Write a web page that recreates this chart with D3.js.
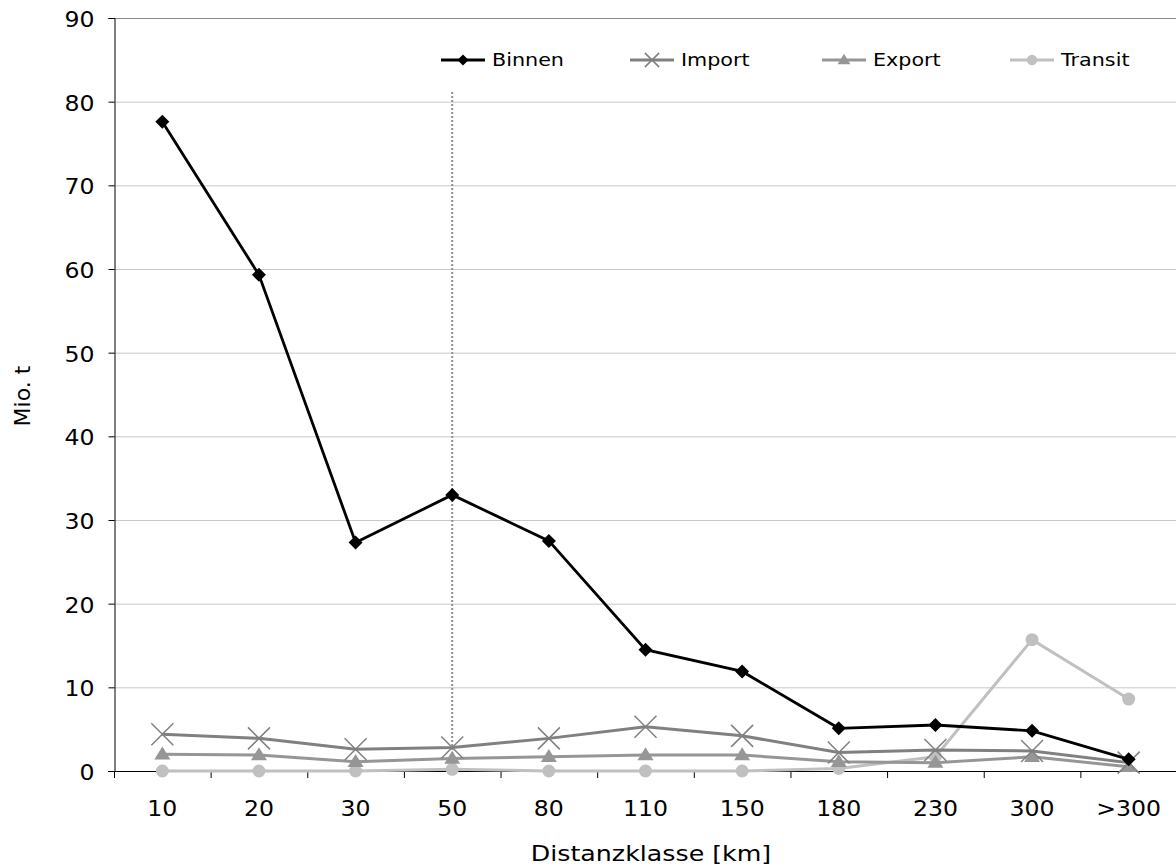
<!DOCTYPE html>
<html><head><meta charset="utf-8">
<script src="https://cdn.jsdelivr.net/npm/d3@7"></script>
<style>
body{margin:0;background:#fff;}
text{font-family:"DejaVu Sans",Verdana,sans-serif;fill:#000;}
</style></head>
<body><svg id="c" width="1176" height="868"></svg>
<script>
const categories = ["10","20","30","50","80","110","150","180","230","300",">300"];
const binnen  = [77.6, 59.3, 27.3, 33.0, 27.5, 14.5, 11.9, 5.1, 5.5, 4.8, 1.4];
const importV = [4.4, 3.9, 2.6, 2.8, 3.9, 5.3, 4.2, 2.2, 2.5, 2.4, 1.0];
const exportV = [2.0, 1.9, 1.1, 1.5, 1.7, 1.9, 1.9, 1.1, 1.0, 1.7, 0.5];
const transit = [0.0, 0.0, 0.0, 0.2, 0.0, 0.0, 0.0, 0.3, 1.7, 15.7, 8.6];
const yTicks = [0,10,20,30,40,50,60,70,80,90];
const markerCategory = "50";

const series = [
  {name:"Binnen", values:binnen, color:"#000000", sym:"diamond"},
  {name:"Import", values:importV, color:"#808080", sym:"cross"},
  {name:"Export", values:exportV, color:"#969696", sym:"triangle"},
  {name:"Transit", values:transit, color:"#c0c0c0", sym:"circle"}
];

const SX = 1.15; // horizontal stretch of the lettering
const svg = d3.select("#c");
const L=114, R=1177, T=18, B=771;
const x = d3.scaleBand().domain(categories).range([L,R]);
const y = d3.scaleLinear().domain([0,90]).range([B,T]);
const cx = c => x(c)+x.bandwidth()/2;

// gridlines
svg.append("g").selectAll("line").data(yTicks.filter(d=>d>0)).join("line")
  .attr("x1",L).attr("x2",R).attr("y1",d=>y(d)+0.5).attr("y2",d=>y(d)+0.5)
  .attr("stroke",d=>d===90?"#8c8c8c":"#c8c8c8").attr("stroke-width",1);

// y axis
const ya = svg.append("g").attr("transform",`translate(${L+0.5},0)`)
  .call(d3.axisLeft(y).tickValues(yTicks).tickSize(6).tickPadding(11.4));
ya.select(".domain").attr("stroke","#000");
ya.selectAll(".tick line").attr("stroke","#000");
ya.selectAll("text").style("font-size","20.5px").style("font-family","DejaVu Sans")
  .attr("dy","0.42em").attr("transform",`scale(${SX},1)`);

// x axis
const xa = svg.append("g").attr("transform",`translate(0,${B})`)
  .call(d3.axisBottom(x).tickSize(0));
xa.select(".domain").attr("stroke","#000").attr("d",`M${L-6},0.5H${R}`);
xa.selectAll("text").style("font-size","20.5px").style("font-family","DejaVu Sans")
  .attr("y",45).attr("dy",0).attr("transform",`scale(${SX},1)`);
svg.append("g").selectAll("line").data(d3.range(categories.length+1)).join("line")
  .attr("x1",d=>L+0.5+x.step()*d).attr("x2",d=>L+0.5+x.step()*d)
  .attr("y1",B).attr("y2",B+7).attr("stroke","#000");

// dotted vertical marker
svg.append("line").attr("x1",cx(markerCategory)).attr("x2",cx(markerCategory))
  .attr("y1",92).attr("y2",B).attr("stroke","#909090").attr("stroke-width",2)
  .attr("stroke-dasharray","2,2");

function markerPath(sym, px, py, k){
  if(sym==="diamond"){ const r=7*k; return `M${px},${py-r}L${px+r},${py}L${px},${py+r}L${px-r},${py}Z`; }
  if(sym==="triangle"){ const w=8*k, h=13*k; return `M${px},${py-h*0.6}L${px+w},${py+h*0.4}L${px-w},${py+h*0.4}Z`; }
  if(sym==="circle"){ const r=6.5*k; return `M${px-r},${py}a${r},${r} 0 1,0 ${2*r},0a${r},${r} 0 1,0 ${-2*r},0Z`; }
  const r=11*k; return `M${px-r},${py-r}L${px+r},${py+r}M${px-r},${py+r}L${px+r},${py-r}`;
}
function drawMarker(g, s, px, py, k){
  const p = g.append("path").attr("d",markerPath(s.sym,px,py,k));
  if(s.sym==="cross") p.attr("stroke",s.color).attr("stroke-width",1.5).attr("fill","none");
  else p.attr("fill",s.color);
}

// series drawn back to front
const order = [3,2,1,0];
const line = d3.line().x((d,i)=>cx(categories[i])).y(d=>y(d));
order.forEach(k=>{
  const s = series[k];
  const g = svg.append("g");
  g.append("path").attr("d",line(s.values)).attr("fill","none")
    .attr("stroke",s.color).attr("stroke-width",s.name==="Binnen"?2.8:3);
  s.values.forEach((v,i)=>drawMarker(g,s,cx(categories[i]),y(v),1));
});

// legend
const legX = [441, 630, 822, 1010];
const ly = 60;
series.forEach((s,i)=>{
  const g = svg.append("g");
  g.append("line").attr("x1",legX[i]).attr("x2",legX[i]+44).attr("y1",ly).attr("y2",ly)
    .attr("stroke",s.color).attr("stroke-width",s.name==="Binnen"?2.8:3);
  drawMarker(g, s, legX[i]+22, ly, s.sym==="cross"?0.65:0.8);
  g.append("text").attr("transform",`translate(${legX[i]+51},${ly}) scale(${SX},1)`)
    .attr("dy","0.36em").style("font-size","18px").text(s.name);
});

// axis titles
svg.append("text").attr("transform",`translate(651,861) scale(${SX},1)`).attr("text-anchor","middle")
  .style("font-size","22px").text("Distanzklasse [km]");
svg.append("text").attr("transform","translate(22,396) rotate(-90)").attr("dy","0.35em")
  .attr("text-anchor","middle").style("font-size","22px").text("Mio. t");
</script></body></html>
